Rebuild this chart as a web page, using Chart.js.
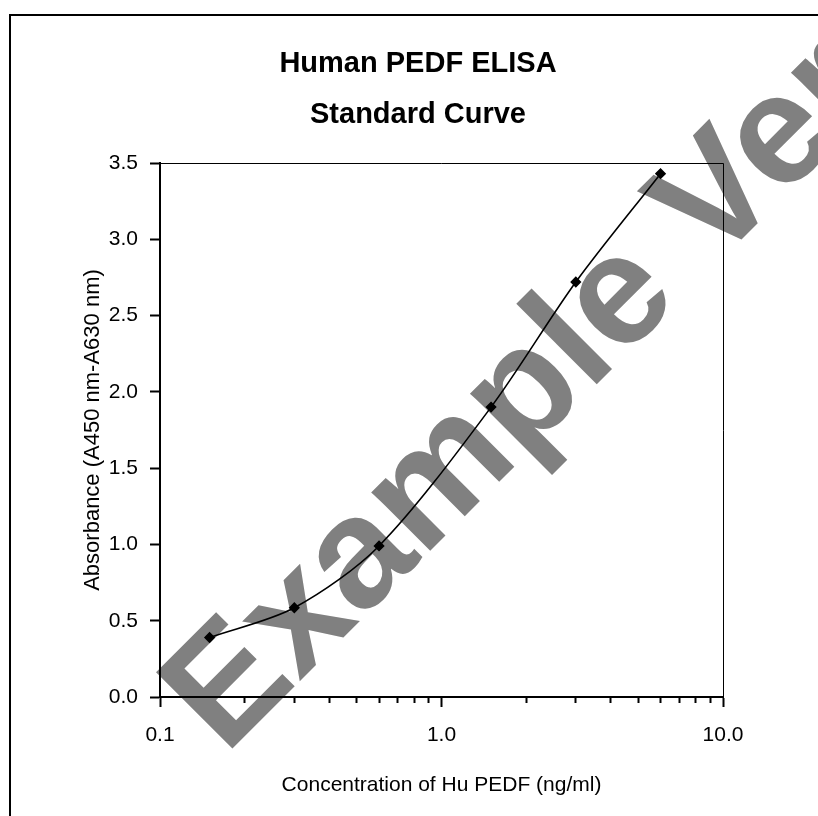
<!DOCTYPE html>
<html>
<head>
<meta charset="utf-8">
<script src="https://cdn.jsdelivr.net/npm/chart.js@4/dist/chart.umd.min.js"></script>
<style>
  body { margin: 0; background: #fff; }
  canvas { display: block; }
</style>
</head>
<body>
<canvas id="curva" width="818" height="816"></canvas>
<script>
const concentracion = [0.15, 0.3, 0.6, 1.5, 3, 6];
const absorbancia = [0.39, 0.585, 0.99, 1.9, 2.72, 3.43];
const ticksMayores = [0.1, 1, 10];
const ticksMenores = [0.2, 0.3, 0.4, 0.5, 0.6, 0.7, 0.8, 0.9, 2, 3, 4, 5, 6, 7, 8, 9];
const titulo = ['Human PEDF ELISA', 'Standard Curve'];
const marcaAgua = 'Example Version';

const fuente = "'Liberation Sans', Arial, sans-serif";

const puntos = [];
for (let i = 0; i < concentracion.length; i++) {
  puntos.push({ x: concentracion[i], y: absorbancia[i] });
}

// marca de agua gris por debajo de los ejes
const fondo = {
  id: 'fondo',
  beforeDraw(chart) {
    const ctx = chart.ctx;
    ctx.save();
    ctx.fillStyle = '#fff';
    ctx.fillRect(0, 0, chart.width, chart.height);
    ctx.translate(225, 756);
    ctx.rotate(-Math.PI / 4);
    ctx.font = "bold 157px " + fuente;
    ctx.fillStyle = '#808080';
    ctx.textAlign = 'left';
    ctx.textBaseline = 'alphabetic';
    ctx.fillText(marcaAgua, 0, 0);
    ctx.restore();
  }
};

// titulo, marco del area y borde exterior
const marco = {
  id: 'marco',
  afterDraw(chart) {
    const ctx = chart.ctx;
    const a = chart.chartArea;
    ctx.save();
    ctx.strokeStyle = '#000';
    ctx.lineWidth = 1;
    ctx.beginPath();
    ctx.moveTo(a.left, a.top + 0.5);
    ctx.lineTo(a.right + 0.5, a.top + 0.5);
    ctx.lineTo(a.right + 0.5, a.bottom);
    ctx.stroke();
    ctx.lineWidth = 2;
    ctx.strokeRect(10, 15, 900, 900);
    ctx.fillStyle = '#000';
    ctx.font = "bold 29px " + fuente;
    ctx.textAlign = 'center';
    ctx.textBaseline = 'middle';
    ctx.fillText(titulo[0], 418, 63.5);
    ctx.fillText(titulo[1], 418, 115);
    ctx.restore();
  }
};

new Chart('curva', {
  type: 'line',
  data: {
    datasets: [{
      label: 'Standard',
      data: puntos,
      borderColor: '#000',
      borderWidth: 1.6,
      tension: 0.3,
      pointStyle: 'rectRot',
      pointRadius: 4.5,
      pointBackgroundColor: '#000',
      pointBorderColor: '#000',
      clip: false
    }]
  },
  options: {
    responsive: false,
    animation: false,
    layout: { padding: { top: 163, right: 95, bottom: 0, left: 0 } },
    plugins: {
      legend: { display: false },
      tooltip: { enabled: false }
    },
    scales: {
      x: {
        type: 'logarithmic',
        position: 'bottom',
        weight: 1,
        min: 0.1,
        max: 10,
        afterBuildTicks: (s) => { s.ticks = ticksMayores.map(v => ({ value: v })); },
        afterFit: (s) => { s.height = 119; },
        border: { display: true, color: '#000', width: 2 },
        grid: { drawOnChartArea: false, tickLength: 10, tickWidth: 2, tickColor: '#000' },
        ticks: {
          color: '#000',
          padding: 16,
          maxRotation: 0,
          font: { family: fuente, size: 21 },
          callback: (v) => Number(v).toFixed(1)
        },
        title: {
          display: true,
          text: 'Concentration of Hu PEDF (ng/ml)',
          color: '#000',
          font: { family: fuente, size: 21 },
          padding: { top: 0, bottom: 18 }
        }
      },
      xMenor: {
        type: 'logarithmic',
        position: 'bottom',
        weight: 0,
        min: 0.1,
        max: 10,
        afterBuildTicks: (s) => { s.ticks = ticksMenores.map(v => ({ value: v })); },
        afterFit: (s) => { s.height = 0; },
        border: { display: false },
        grid: { drawOnChartArea: false, tickLength: 6, tickWidth: 2, tickColor: '#000' },
        ticks: { display: false }
      },
      y: {
        type: 'linear',
        min: 0,
        max: 3.5,
        afterFit: (s) => { s.width = 160; },
        border: { display: true, color: '#000', width: 2 },
        grid: { drawOnChartArea: false, tickLength: 10, tickWidth: 2, tickColor: '#000' },
        ticks: {
          stepSize: 0.5,
          color: '#000',
          padding: 12,
          font: { family: fuente, size: 21 },
          callback: (v) => Number(v).toFixed(1)
        },
        title: {
          display: true,
          text: 'Absorbance (A450 nm-A630 nm)',
          color: '#000',
          font: { family: fuente, size: 22 },
          padding: { top: 80, bottom: 0 }
        }
      }
    }
  },
  plugins: [fondo, marco]
});
</script>
</body>
</html>
